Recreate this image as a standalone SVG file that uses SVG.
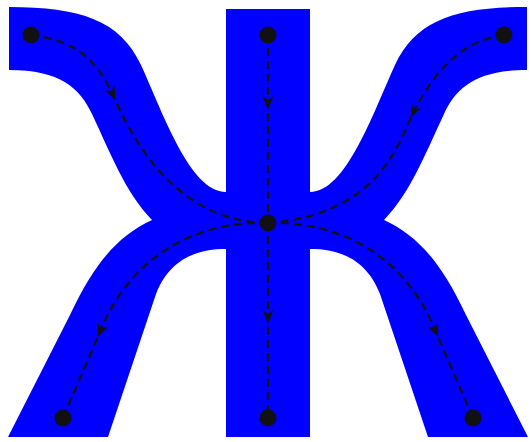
<svg xmlns="http://www.w3.org/2000/svg" width="531" height="442" viewBox="0 0 531 442">
<style>
.blue{fill:#0000ff;stroke:none}
.dash{fill:none;stroke:#111;stroke-width:2.2;stroke-dasharray:8,5;marker-mid:url(#arr)}
.dot{fill:#111}
</style>
<defs>
<marker id="arr" viewBox="0 0 12 10" refX="7" refY="5" markerWidth="13" markerHeight="11" markerUnits="userSpaceOnUse" orient="auto">
<path d="M0,0 L12,5 L0,10 L3,5 z" fill="#111"/>
</marker>
</defs>
<rect width="531" height="442" fill="#ffffff"/>
<g id="shape">
<rect class="blue" x="226" y="9" width="84" height="428"/>
<path class="blue" d="M9,7 C80,7 120,20 141,65 C163,113 190,192 226,192 L268,192 L268,249 L226,249 C198,249 170,258 156,294 L108,437 L8,437 L70,315 C95,262 118,236 152,220 C125,192 110,152 92,114 C80,88 60,70 9,70 Z"/>
<path class="blue" d="M527,7 C456,7 416,20 395,65 C373,113 346,192 310,192 L268,192 L268,249 L310,249 C338,249 366,258 380,294 L428,437 L528,437 L466,315 C441,262 418,236 384,220 C411,192 426,152 444,114 C456,88 476,70 527,70 Z"/>
</g>
<g id="connectors">
<path class="dash" d="M31,35 C70,40 95,55 113,95 C128,128 170,222 268,223"/>
<path class="dash" d="M504,35 C470,40 440,60 413,113 C400,140 380,215 268,223"/>
<path class="dash" d="M268,35 L268,104 L268,223"/>
<path class="dash" d="M268,223 C210,221 135,245 100,332 L63,418"/>
<path class="dash" d="M268,223 C326,221 401,245 436,332 L473,418"/>
<path class="dash" d="M268,223 L268,318 L268,418"/>
</g>
<g id="node-tl"><circle class="dot" cx="31" cy="35" r="8.5"/></g>
<g id="node-tc"><circle class="dot" cx="268" cy="35" r="8.5"/></g>
<g id="node-tr"><circle class="dot" cx="504" cy="35" r="8.5"/></g>
<g id="node-c"><circle class="dot" cx="268" cy="223" r="8.5"/></g>
<g id="node-bl"><circle class="dot" cx="63" cy="418" r="8.5"/></g>
<g id="node-bc"><circle class="dot" cx="268" cy="418" r="8.5"/></g>
<g id="node-br"><circle class="dot" cx="473" cy="418" r="8.5"/></g>
</svg>
